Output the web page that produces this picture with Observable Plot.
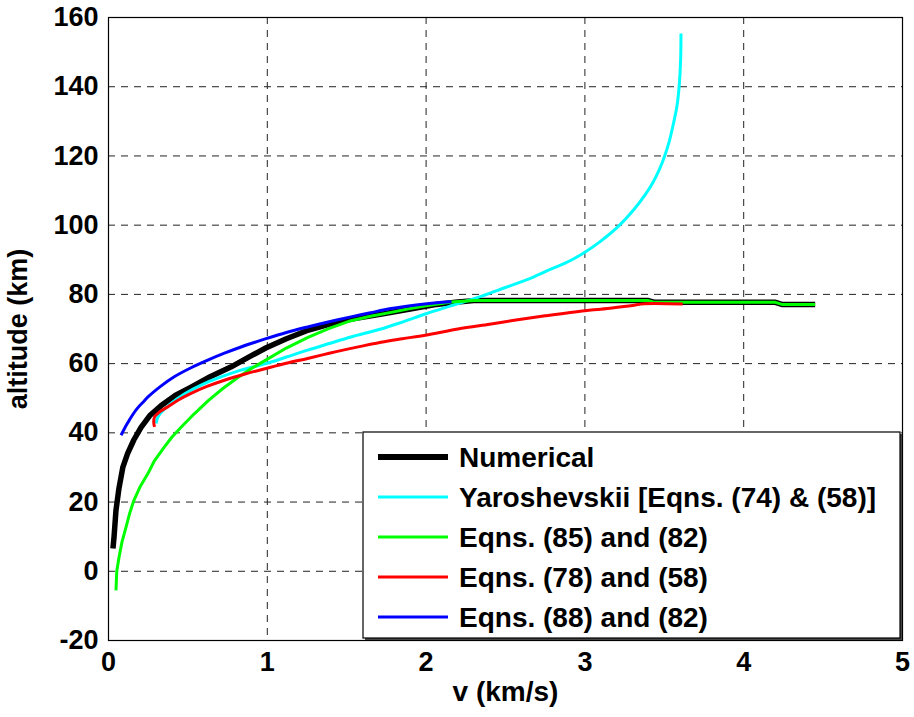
<!DOCTYPE html>
<html>
<head>
<meta charset="utf-8">
<script src="https://cdn.jsdelivr.net/npm/d3@7"></script>
<script src="https://cdn.jsdelivr.net/npm/@observablehq/plot@0.6"></script>
<style>
  html, body { margin: 0; padding: 0; background: #fff; }
  #chart { width: 914px; height: 717px; }
  svg { font-family: "Liberation Sans", Arial, Helvetica, sans-serif; }
</style>
</head>
<body>
<div id="chart"></div>
<script>
// ---- data (v in km/s, altitude in km) ----
const seriesNames = [
  "Numerical",
  "Yaroshevskii [Eqns. (74) & (58)]",
  "Eqns. (85) and (82)",
  "Eqns. (78) and (58)",
  "Eqns. (88) and (82)"
];
const seriesColors = ["#000000", "#00ffff", "#00ff00", "#ff0000", "#0000ff"];
const seriesWidths = [5.5, 3, 3, 3, 3];
const seriesCurves = ["linear", "catmull-rom", "linear", "catmull-rom", "catmull-rom"];

const numericalV = [0.028,0.035,0.047,0.066,0.09,0.12,0.16,0.205,0.26,0.33,0.42,0.52,0.64,0.77,0.88,0.99,1.12,1.26,1.4,1.53,1.72,1.9,2.05,2.2,2.3,3.4,3.44,4.2,4.24,4.45];
const numericalH = [6.6,10,17.6,24,30,34,38,41.6,45,47.8,50.8,53.2,56.2,59,61.8,64.5,67.2,69.7,71.5,72.9,74.3,75.8,77,77.8,78.2,78.2,77.7,77.7,77.1,77.1];

const yaroV = [0.30,0.31,0.33,0.394,0.48,0.583,0.7,0.834,0.992,1.12,1.254,1.39,1.527,1.716,1.85,2.0,2.15,2.35,2.5,2.66,2.786,2.91,3.0,3.1,3.207,3.31,3.38,3.43,3.47,3.5,3.53,3.553,3.58,3.595,3.603,3.605];
const yaroH = [42.7,44.5,45.8,48.5,51.3,53.8,56.0,58.1,60.0,61.9,63.9,65.8,67.7,70.0,72.0,74.4,76.6,79.5,82.0,84.7,87.3,89.8,92.2,95.4,99.5,104.6,108.8,112.5,116.2,119.7,124,128.4,134.5,141,148,155.4];

const eq85V = [0.047,0.052,0.066,0.085,0.11,0.135,0.16,0.2,0.249,0.29,0.35,0.4,0.457,0.54,0.63,0.72,0.815,0.9,0.99,1.12,1.256,1.39,1.527,1.65,1.78,1.9,2.0,2.16,2.3,3.4,3.44,4.2,4.24,4.45];
const eq85H = [-5.5,0,4,8.5,12.7,17,20.5,24.5,28.3,32,35.8,38.8,41.6,45.5,49.4,52.8,56,58.6,61,64.5,67.6,70.2,72.4,73.7,74.8,75.9,76.7,77.8,78.2,78.2,77.7,77.7,77.1,77.1];

const eq78V = [0.29,0.285,0.29,0.32,0.373,0.44,0.52,0.62,0.73,0.86,0.992,1.12,1.254,1.39,1.527,1.716,1.85,1.995,2.2,2.4,2.555,2.75,3.0,3.1,3.23,3.3,3.374,3.616];
const eq78H = [41.7,43,44.6,46,47.5,49.5,51.4,53.4,55.2,57,58.6,60.1,61.5,63,64.4,66.2,67.2,68.2,70,71.4,72.5,73.8,75.3,75.7,76.4,76.8,77.3,77.2];

const eq88V = [0.079,0.1,0.121,0.142,0.18,0.225,0.247,0.33,0.414,0.52,0.625,0.73,0.834,0.992,1.12,1.254,1.39,1.527,1.65,1.78,1.95,2.1,2.16];
const eq88H = [39.3,41.2,42.9,44.5,47.0,49.2,50.3,53.5,56.2,58.8,61,63,64.8,67.2,69,70.6,72.1,73.5,74.7,75.9,77,77.7,77.9];

const xTicks = [0, 1, 2, 3, 4, 5];
const yTicks = [-20, 0, 20, 40, 60, 80, 100, 120, 140, 160];
const xLabel = "v (km/s)";
const yLabel = "altitude (km)";

// ---- build tables ----
const seriesV = [numericalV, yaroV, eq85V, eq78V, eq88V];
const seriesH = [numericalH, yaroH, eq85H, eq78H, eq88H];
const seriesData = seriesV.map((vs, s) => vs.map((v, i) => ({v, h: seriesH[s][i], s: seriesNames[s]})));

const W = 914, H = 717;
const mL = 108, mR = 12, mT = 17, mB = 77;
const FONT = '"Liberation Sans", Arial, sans-serif';

const plot = Plot.plot({
  width: W,
  height: H,
  marginLeft: mL,
  marginRight: mR,
  marginTop: mT,
  marginBottom: mB,
  style: {fontFamily: FONT, background: "#fff", overflow: "visible"},
  x: {domain: [0, 5], ticks: xTicks},
  y: {domain: [-20, 160], ticks: yTicks},
  marks: [
    Plot.ruleX(xTicks.slice(1, -1), {stroke: "#222", strokeWidth: 1, strokeDasharray: "7,6"}),
    Plot.ruleY(yTicks.slice(1, -1), {stroke: "#222", strokeWidth: 1, strokeDasharray: "7,6"}),
    Plot.frame({stroke: "#000", strokeWidth: 1.2}),
    Plot.axisX({ticks: xTicks, tickSize: 0, tickPadding: 11, fontSize: 27, fontWeight: "bold", label: null, tickFormat: d => String(d), fill: "#000"}),
    Plot.axisY({ticks: yTicks, tickSize: 0, tickPadding: 10, fontSize: 27, fontWeight: "bold", label: null, tickFormat: d => String(d), fill: "#000"}),
    Plot.text([xLabel], {frameAnchor: "bottom", lineAnchor: "middle", textAnchor: "middle", dy: 52, fontSize: 28, fontWeight: "bold", fill: "#000"}),
    Plot.text([yLabel], {frameAnchor: "left", lineAnchor: "middle", textAnchor: "middle", rotate: -90, dx: -90, fontSize: 27, fontWeight: "bold", fill: "#000"}),
    ...seriesData.map((d, s) => Plot.line(d, {
      x: "v", y: "h", stroke: seriesColors[s], strokeWidth: seriesWidths[s],
      curve: seriesCurves[s], strokeLinejoin: "round", strokeLinecap: "butt"
    }))
  ]
});

document.getElementById("chart").appendChild(plot);

// ---- legend box (inside the axes, lower right) ----
const svg = d3.select(plot);
const lx = 363, ly = 432, lw = 537, lh = 206, rowH = 40, firstRow = 457;
const g = svg.append("g").attr("class", "legend").attr("text-anchor", "start");
g.append("rect").attr("x", lx + 2).attr("y", ly + 2).attr("width", lw).attr("height", lh).attr("fill", "#444");
g.append("rect").attr("x", lx).attr("y", ly).attr("width", lw).attr("height", lh)
  .attr("fill", "#fff").attr("stroke", "#000").attr("stroke-width", 1.2);
seriesNames.forEach((name, i) => {
  const cy = firstRow + i * rowH;
  g.append("line").attr("x1", lx + 15).attr("x2", lx + 85).attr("y1", cy).attr("y2", cy)
    .attr("stroke", seriesColors[i]).attr("stroke-width", i === 0 ? 6 : 3);
  g.append("text").attr("x", lx + 96).attr("y", cy).attr("dy", "0.36em")
    .attr("text-anchor", "start")
    .attr("font-size", 28).attr("font-weight", "bold").attr("fill", "#000")
    .attr("font-family", FONT)
    .text(name);
});
</script>
</body>
</html>
